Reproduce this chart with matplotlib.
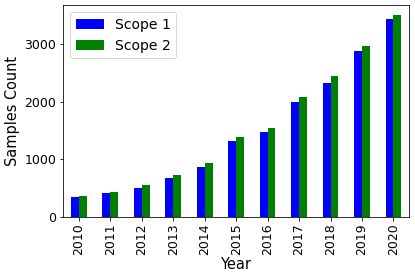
import matplotlib
matplotlib.use("Agg")
import matplotlib.pyplot as plt
import numpy as np

years = ["2010", "2011", "2012", "2013", "2014", "2015",
         "2016", "2017", "2018", "2019", "2020"]
scope1 = [348, 406, 504, 672, 870, 1322, 1478, 1994, 2319, 2875, 3443]
scope2 = [359, 423, 545, 725, 928, 1391, 1542, 2075, 2446, 2962, 3507]

fig = plt.figure(figsize=(415 / 72, 280 / 72), dpi=72)
ax = fig.add_axes([0.152, 0.226, 0.834, 0.756])

x = np.arange(len(years))
w = 0.25
ax.bar(x - w / 2, scope1, width=w, color="blue", label="Scope 1")
ax.bar(x + w / 2, scope2, width=w, color="green", label="Scope 2")

ax.set_xlim(-0.5, len(years) - 0.5)
ax.set_xticks(x)
ax.set_xticklabels(years, rotation=90)
ax.set_yticks([0, 1000, 2000, 3000])
ax.tick_params(labelsize=12.5)
ax.set_xlabel("Year", fontsize=14.5, labelpad=2)
ax.set_ylabel("Samples Count", fontsize=14.5)
ax.legend(loc="upper left", fontsize=14)

fig.savefig("out.png", dpi=72)
